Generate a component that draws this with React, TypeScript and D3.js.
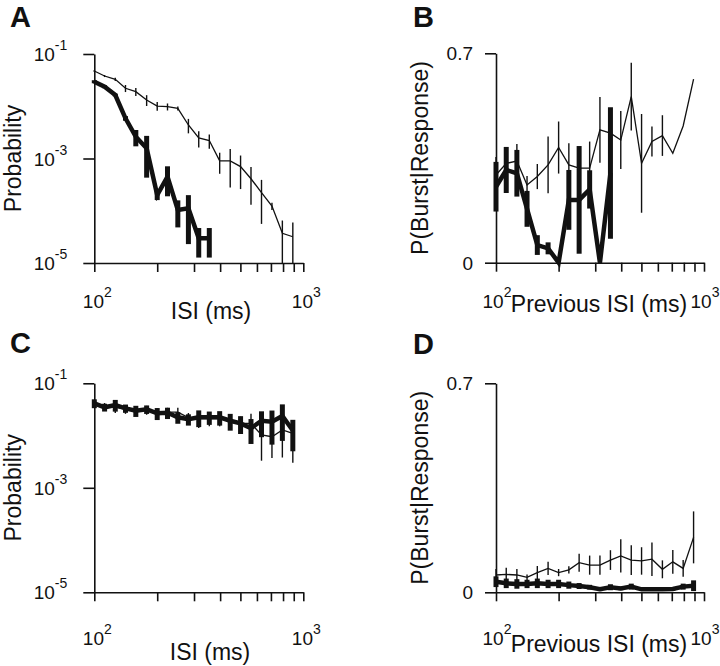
import React, { useRef, useEffect } from 'react'
import * as d3 from 'd3'

// ISI bins (ms), shared by every panel
const isiBins = [100, 112, 126, 141, 158, 178, 200, 224, 251, 282, 316, 355, 398, 447, 501, 562, 631, 708, 794, 891]
const xTicks = [100, 200, 300, 400, 500, 600, 700, 800, 900, 1000]

// A: ISI distribution (thin = all, thick = burst)
const aThin = [0.0473, 0.0379, 0.0328, 0.0221, 0.019, 0.0132, 0.0101, 0.0098, 0.0091, 0.00438, 0.00247, 0.00221, 0.0009, 0.0009, 0.0007, 0.00041, 0.000223, 0.000123, 0.000037, 0.0000318]
const aThinErr = [0.002, 0.0017, 0.0023, 0.0034, 0.0033, 0.0031, 0.0019, 0.0015, 0.0008, 0.00135, 0.00085, 0.00068, 0.00039, 0.00062, 0.00044, 0.00028, 0.000167, 0.00002, 0.000028, 0.000028]
const aThick = [0.0295, 0.0237, 0.0164, 0.00588, 0.00261, 0.00157, 0.0002, 0.000449, 0.000103, 0.000111, 0.0000297, 0.0000297]
const aThickErr = [0.002, 0.0015, 0.001, 0.0006, 0.0009, 0.00114, 0.00004, 0.00026, 0.000055, 0.000088, 0.000017, 0.000017]

// B: P(burst | response) vs previous ISI
const bThin = [0.293, 0.332, 0.34, 0.26, 0.288, 0.327, 0.385, 0.327, 0.316, 0.316, 0.444, 0.433, 0.41, 0.555, 0.332, 0.405, 0.425, 0.366, 0.457, 0.614]
const bThinErr = [0.06, 0.04, 0.057, 0.03, 0.042, 0.095, 0.087, 0.072, 0.07, 0.089, 0.11, 0, 0.097, 0.113, 0.165, 0.05, 0.068, 0, 0, 0]
const bThick = [0.254, 0.31, 0.299, 0.18, 0.059, 0.048, 0, 0.21, 0.21, 0.245, 0, 0.3]
const bThickErr = [0.083, 0.077, 0.078, 0.06, 0.033, 0.02, 0, 0.1, 0.18, 0.064, 0, 0.22]

// C: ISI distribution, second cell
const cThin = [0.04, 0.036, 0.035, 0.032, 0.03, 0.031, 0.027, 0.028, 0.028, 0.022, 0.021, 0.021, 0.021, 0.019, 0.017, 0.0171, 0.0103, 0.0095, 0.0128, 0.011]
const cThinErr = [0.006, 0.006, 0.008, 0.006, 0.006, 0.006, 0.006, 0.006, 0.006, 0.005, 0.007, 0.006, 0.006, 0.006, 0.006, 0.009, 0.007, 0.0058, 0.009, 0.008]
const cThick = [0.0414, 0.0347, 0.0384, 0.0332, 0.0299, 0.0318, 0.0267, 0.0274, 0.0224, 0.0205, 0.0224, 0.0224, 0.0224, 0.0192, 0.0171, 0.0138, 0.0192, 0.0184, 0.0237, 0.0125]
const cThickErr = [0.008, 0.0059, 0.0097, 0.006, 0.0072, 0.0059, 0.0069, 0.0067, 0.0056, 0.005, 0.0079, 0.0064, 0.0069, 0.0068, 0.0064, 0.0069, 0.0099, 0.0117, 0.0158, 0.0075]

// D: P(burst | response), second cell
const dThin = [0.058, 0.06, 0.058, 0.05, 0.066, 0.08, 0.066, 0.075, 0.099, 0.091, 0.091, 0.108, 0.122, 0.108, 0.105, 0.111, 0.077, 0.102, 0.08, 0.184]
const dThinErr = [0.02, 0.022, 0.02, 0.01, 0.022, 0.022, 0.012, 0.012, 0.03, 0.032, 0.032, 0.033, 0.056, 0.05, 0.046, 0.056, 0.03, 0.04, 0.028, 0.087]
const dThick = [0.0355, 0.03, 0.028, 0.028, 0.03, 0.028, 0.028, 0.024, 0.021, 0.017, 0.01, 0.017, 0.013, 0.019, 0.01, 0.01, 0.01, 0.011, 0.019, 0.022]
const dThickErr = [0.018, 0.016, 0.016, 0.014, 0.016, 0.014, 0.014, 0.012, 0.01, 0.008, 0.006, 0.01, 0.006, 0.01, 0.005, 0.005, 0.005, 0.006, 0.01, 0.018]

const FONT = 'Liberation Sans, Arial, Helvetica, sans-serif'
const INK = '#111'

const panels = [
  { letter: 'A', lx: 10, ly: 27, ax: 94.3, right: 303.3, top: 54, bottom: 263, log: true,
    thin: aThin, thinErr: aThinErr, thick: aThick, thickErr: aThickErr,
    tickY: 308, xLabel: 'ISI (ms)', xlx: 211, xly: 319, yLabel: 'Probability', ylx: 21 },
  { letter: 'B', lx: 413, ly: 27, ax: 496, right: 704, top: 53.3, bottom: 262.7, log: false,
    thin: bThin, thinErr: bThinErr, thick: bThick, thickErr: bThickErr,
    tickY: 308, xLabel: 'Previous ISI (ms)', xlx: 599, xly: 312, yLabel: 'P(Burst|Response)', ylx: 428 },
  { letter: 'C', lx: 10, ly: 353, ax: 94.3, right: 303.3, top: 383.3, bottom: 592.3, log: true,
    thin: cThin, thinErr: cThinErr, thick: cThick, thickErr: cThickErr,
    tickY: 645, xLabel: 'ISI (ms)', xlx: 210, xly: 660, yLabel: 'Probability', ylx: 21 },
  { letter: 'D', lx: 413, ly: 354, ax: 496, right: 704, top: 383.3, bottom: 592.3, log: false,
    thin: dThin, thinErr: dThinErr, thick: dThick, thickErr: dThickErr,
    tickY: 645, xLabel: 'Previous ISI (ms)', xlx: 599, xly: 652, yLabel: 'P(Burst|Response)', ylx: 428 },
]

// "10" with a raised exponent
const powLabel = (sel: any, base: string, exp: string) => {
  sel.append('tspan').text(base)
  sel.append('tspan').attr('dy', -11).attr('font-size', 14).text(exp)
}

const Panel = ({ p }: any) => {
  const gRef = useRef<SVGGElement>(null)

  useEffect(() => {
    const g = d3.select(gRef.current)
    g.selectAll('*').remove()

    const x = d3.scaleLog().domain([100, 1000]).range([p.ax, p.right])
    const y: any = p.log
      ? d3.scaleLog().domain([1e-5, 1e-1]).range([p.bottom, p.top])
      : d3.scaleLinear().domain([0, 0.7]).range([p.bottom, p.top])
    const yMin = p.log ? 1e-5 : 0
    const yMax = p.log ? 1e-1 : 0.7
    const yTicks = p.log ? [1e-5, 1e-3, 1e-1] : [0, 0.7]

    // axes
    const xAxis = g.append('g').attr('transform', `translate(0,${p.bottom})`)
      .call(d3.axisBottom(x).tickValues(xTicks).tickSize(9).tickSizeOuter(0).tickFormat(() => ''))
    const yAxis = g.append('g').attr('transform', `translate(${p.ax},0)`)
      .call(d3.axisLeft(y).tickValues(yTicks).tickSize(11).tickSizeOuter(0).tickFormat(() => ''))
    ;[xAxis, yAxis].forEach(a => {
      a.selectAll('path, line').attr('stroke', INK).attr('stroke-width', 1.6)
    })

    // y tick labels
    yTicks.forEach(t => {
      const txt = g.append('text')
        .attr('x', p.ax - 27).attr('y', y(t) + 7)
        .attr('text-anchor', 'end').attr('font-size', 19).attr('font-family', FONT).attr('fill', INK)
      if (p.log) powLabel(txt, '10', String(Math.round(Math.log10(t))))
      else txt.attr('x', p.ax - 23).text(t === 0 ? '0' : '0.7')
    })

    // x tick labels at the decades
    ;[100, 1000].forEach(t => {
      const txt = g.append('text')
        .attr('x', x(t) + (p.log ? 3 : 1)).attr('y', p.tickY)
        .attr('text-anchor', 'middle').attr('font-size', 19).attr('font-family', FONT).attr('fill', INK)
      powLabel(txt, '10', String(Math.log10(t)))
    })

    g.append('text')
      .attr('x', p.xlx).attr('y', p.xly).attr('text-anchor', 'middle')
      .attr('font-size', 23).attr('font-family', FONT).attr('fill', INK)
      .text(p.xLabel)
    g.append('text')
      .attr('transform', `translate(${p.ylx},${(p.top + p.bottom) / 2}) rotate(-90)`)
      .attr('text-anchor', 'middle')
      .attr('font-size', 23).attr('font-family', FONT).attr('fill', INK)
      .text(p.yLabel)
    g.append('text')
      .attr('x', p.lx).attr('y', p.ly)
      .attr('font-size', 29).attr('font-weight', 'bold').attr('font-family', FONT).attr('fill', INK)
      .text(p.letter)

    const clampY = (v: number) => y(Math.max(yMin, Math.min(yMax, v)))
    const line = d3.line<number>().x((d, i) => x(isiBins[i])).y(d => clampY(d))

    const drawSeries = (vals: number[], errs: number[], w: number, bw: number) => {
      g.append('g').selectAll('line')
        .data(vals)
        .enter()
        .append('line')
        .attr('x1', (d, i) => x(isiBins[i]))
        .attr('x2', (d, i) => x(isiBins[i]))
        .attr('y1', (d, i) => clampY(d + errs[i]))
        .attr('y2', (d, i) => (d - errs[i] <= yMin ? y(yMin) : clampY(d - errs[i])))
        .attr('stroke', INK)
        .attr('stroke-width', bw)
      g.append('path')
        .attr('d', line(vals))
        .attr('fill', 'none')
        .attr('stroke', INK)
        .attr('stroke-width', w)
    }
    drawSeries(p.thin, p.thinErr, 1.3, 1.4)
    drawSeries(p.thick, p.thickErr, 4.5, 5)
  }, [p])

  return <g ref={gRef} />
}

const App = () => {
  return (
    <svg width={720} height={666} style={{ position: 'absolute', left: 0, top: 0, background: '#fff' }}>
      <rect width={720} height={666} fill="#fff" />
      {panels.map(p => <Panel key={p.letter} p={p} />)}
    </svg>
  )
}

export default App
